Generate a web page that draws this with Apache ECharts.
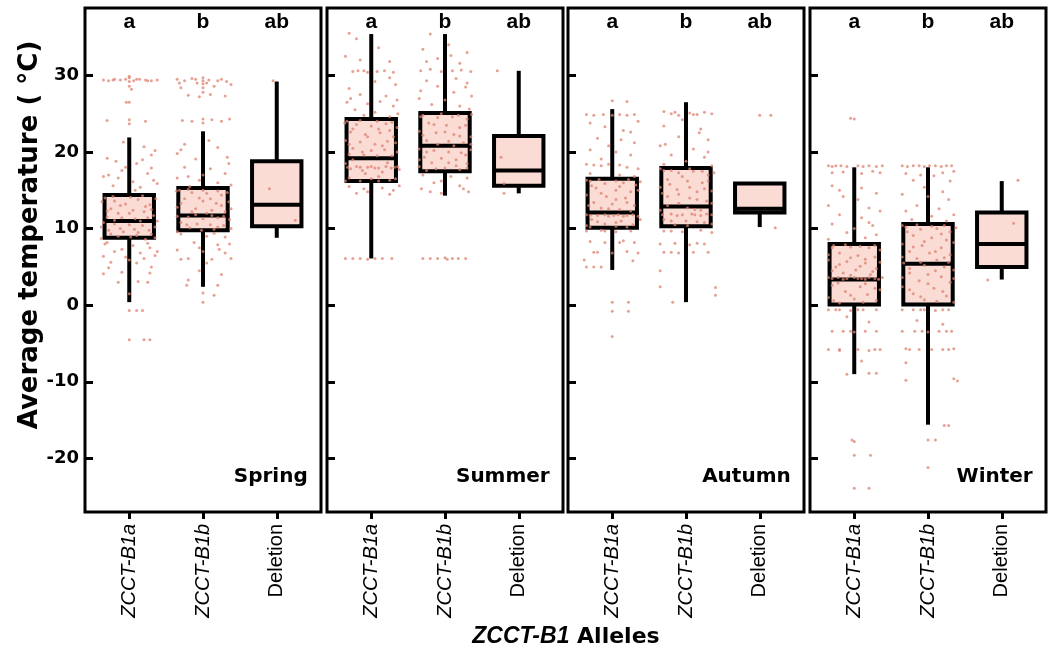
<!DOCTYPE html>
<html>
<head>
<meta charset="utf-8">
<script src="https://cdn.jsdelivr.net/npm/echarts@6/dist/echarts.min.js"></script>
<style>html,body{margin:0;padding:0;background:#fff}#chart{width:1056px;height:653px}</style>
</head>
<body>
<div id="chart"></div>
<script>
var seasons = ['Spring', 'Summer', 'Autumn', 'Winter'];
var alleles = ['ZCCT-B1a', 'ZCCT-B1b', 'Deletion'];
var letters = ['a', 'b', 'ab'];
var yTicks = [-20, -10, 0, 10, 20, 30];

// box stats per allele: [min, Q1, median, Q3, max]
var springBox = [[0.4, 8.8, 11.0, 14.4, 21.9], [2.4, 9.8, 11.7, 15.3, 22.7], [8.8, 10.3, 13.1, 18.8, 29.2]];
var summerBox = [[6.1, 16.2, 19.2, 24.3, 35.4], [14.3, 17.5, 20.8, 25.1, 35.4], [14.6, 15.6, 17.6, 22.1, 30.6]];
var autumnBox = [[4.6, 10.1, 12.1, 16.5, 25.6], [0.4, 10.3, 12.9, 17.9, 26.5], [10.2, 12.1, 12.6, 15.9, 15.9]];
var winterBox = [[-9.0, 0.1, 3.35, 8.0, 18.0], [-15.6, 0.1, 5.4, 10.6, 18.0], [3.35, 5.0, 8.0, 12.1, 16.2]];

// observations: [jitter offset, temperature]
var springB1a = [[-0.35,29.4],[-0.28,29.3],[-0.2,29.5],[-0.12,29.4],[-0.05,29.5],[0,29.7],[0,29.2],[0,28.6],[0,29.9],[0.06,29.3],[0.14,29.5],[0.22,29.4],[0.3,29.3],[0.38,29.4],[0,26.5],[-0.04,26.5],[-0.3,24.1],[0,24.2],[0,23.7],[0.22,24.0],
  [-0.3,19.2],[-0.18,18.8],[0.1,18.5],[0.3,19.6],[0.2,20.7],[0.35,20.2],[-0.1,17.6],[0.25,17.2],[-0.35,16.8],[0.05,16.1],[-0.22,15.6],[0.15,15.4],[0.38,15.9],[-0.08,21.3],[0.3,17.9],
  [-0.33,14.0],[-0.2,13.6],[-0.05,13.2],[0.12,13.8],[0.28,13.1],[-0.25,12.6],[0.05,12.4],[0.2,12.2],[-0.15,12.0],[0.33,11.7],[-0.3,11.5],[-0.1,11.4],[0.08,11.3],[0.25,11.4],[-0.35,10.8],[-0.2,10.6],[0,10.5],[0.18,10.4],[0.35,10.2],[-0.28,9.8],[-0.08,9.6],[0.12,9.5],[0.3,9.3],[-0.15,9.0],[0.1,9.1],[-0.38,8.7],[0.22,8.6],
  [-0.3,8.2],[0.05,7.8],[0.28,7.5],[-0.2,7.0],[0.15,6.8],[-0.35,6.4],[-0.05,6.3],[0.2,6.1],[0.35,6.5],[-0.25,5.6],[0.1,5.5],[-0.1,4.3],[0.28,4.2],[-0.35,4.1],[0.12,3.1],[-0.15,3.0],[0.25,3.0],[0,1.5],
  [0,-0.7],[0.1,-0.7],[0.18,-0.7],[0,-4.5],[0.2,-4.5],[0.28,-4.5],
  [-0.37,13.5],[-0.22,14.2],[0.02,14.1],[0.18,14.3],[0.36,13.9],[-0.12,13.0],[0.22,12.9],[-0.3,12.3],[0,12.0],[0.3,12.5],[-0.2,11.1],[0.15,11.0],[0.38,11.0],[-0.38,10.2],[-0.12,10.0],[0.07,9.9],[0.27,9.8],[-0.25,9.3],[0.02,8.9],[0.35,8.8],[-0.05,18.0],[0.18,19.0],[-0.28,17.0],[0.33,16.3],[-0.15,16.6],[0.08,15.0],[-0.33,8.0],[0.25,8.1],[-0.1,7.3],[0.38,7.0],[0,5.9],[-0.28,4.9],[0.3,5.0],[-0.22,29.4],[0.1,29.5],[0.25,29.3],[0.03,28.2]];
var springB1b = [[-0.35,29.5],[-0.25,29.3],[-0.15,29.6],[-0.08,29.0],[0,29.7],[0,29.3],[0,28.9],[0,28.4],[0,27.8],[0.08,29.4],[0.15,28.6],[0.25,29.5],[0.32,29.2],[-0.3,28.4],[0.38,28.8],[0.1,27.5],[-0.2,27.4],[0.3,27.3],[-0.05,27.2],
  [-0.28,24.1],[-0.15,24.0],[0,24.3],[0,23.8],[0.12,24.2],[0.25,24.0],[0.36,24.3],
  [-0.3,20.3],[0.2,20.6],[-0.1,19.1],[0.33,19.3],[-0.25,18.0],[0.1,17.8],[0.3,17.2],[-0.35,16.6],[-0.05,16.3],[0.2,16.0],[0.38,15.7],[-0.18,15.5],
  [-0.32,15.0],[-0.15,14.7],[0.05,14.6],[0.25,14.4],[-0.25,13.9],[0,13.6],[0.18,13.3],[0.35,13.5],[-0.35,12.8],[-0.1,12.6],[0.12,12.4],[0.3,12.2],[-0.2,11.5],[0,11.3],[0.2,11.4],[0.36,11.2],[-0.3,10.8],[-0.08,10.6],[0.1,10.5],[0.28,10.4],[-0.18,10.1],[0.15,9.9],
  [-0.3,9.3],[0.05,9.0],[0.3,8.9],[-0.12,8.2],[0.2,7.9],[-0.35,7.2],[0,7.0],[0.3,6.8],[-0.2,6.1],[0.12,6.0],[0.38,6.1],[-0.05,4.5],[0.25,4.0],[-0.2,3.3],[0.2,2.6],[-0.22,2.6],
  [0,1.6],[0.15,1.3],[0,0.4],
  [-0.36,14.9],[-0.2,15.1],[0,15.0],[0.2,14.9],[0.33,14.7],[-0.05,14.0],[0.1,13.9],[-0.3,13.3],[0.25,13.0],[-0.15,12.2],[0.05,12.0],[0.38,12.6],[-0.35,11.6],[-0.1,11.8],[0.12,11.7],[0.28,11.6],[-0.22,10.5],[0.2,10.2],[0.38,10.0],[-0.02,9.8],[-0.25,21.0],[0.08,21.5],[-0.35,19.8],[0.35,18.5],[0,17.0],[-0.2,16.8],[-0.35,9.6],[0.15,9.4],[0.36,8.0],[-0.05,7.5],[0.22,7.3],[-0.3,6.0],[0.05,5.5],[-0.1,29.5],[0.05,29.0],[0.2,29.3],[-0.32,29.0]];
var springDel = [[-0.05,29.3],[-0.1,15.2],[0.25,11.1]];

var summerB1a = [[-0.3,35.5],[-0.2,34.8],[0.1,33.6],[-0.35,32.5],[0.25,31.8],[-0.1,30.6],[-0.25,30.5],[-0.18,30.6],[-0.05,30.4],[0.08,30.5],[0.18,30.6],[0.3,30.4],[0.05,29.2],[-0.3,28.3],[0.33,28.8],[-0.15,27.5],[0.2,27.3],[-0.33,26.5],[-0.05,26.3],[0.12,26.6],[0.3,26.0],[-0.22,25.5],[0.05,25.2],[0.36,25.0],[-0.1,24.8],[0.25,24.6],
  [-0.33,24.0],[-0.2,23.6],[0,23.4],[0.2,23.7],[0.35,23.2],[-0.28,22.6],[-0.08,22.3],[0.12,22.5],[0.3,22.0],[-0.35,21.5],[-0.15,21.3],[0.05,21.0],[0.22,21.4],[-0.25,20.5],[0,20.2],[0.18,20.3],[0.35,20.0],[-0.3,19.7],[-0.1,19.6],[0.28,19.5],[-0.35,18.5],[-0.2,18.1],[-0.05,18.0],[0.1,17.9],[0.2,18.1],[0.32,18.0],[-0.28,17.8],[-0.12,17.6],[0.15,17.4],[0.38,17.7],[-0.3,16.6],[0,16.5],[0.25,16.3],[-0.15,16.2],[0.1,16.2],
  [-0.3,15.5],[-0.1,15.2],[0.15,15.3],[0.3,15.0],[-0.2,14.6],[0.25,14.5],
  [-0.35,6.1],[-0.25,6.1],[-0.15,6.1],[-0.05,6.0],[0.05,6.1],[0.15,6.1],[0.28,6.1],
  [-0.36,23.8],[-0.15,24.1],[0.08,24.0],[0.28,23.9],[-0.25,23.0],[0.1,23.0],[-0.05,22.0],[0.25,22.8],[-0.3,21.0],[0.15,20.8],[0.33,21.2],[-0.12,20.0],[0.08,19.5],[-0.25,19.0],[0.22,18.6],[-0.32,18.0],[-0.15,18.0],[0,18.1],[0.05,17.9],[0.27,17.9],[0.36,18.1],[-0.08,17.2],[0.1,16.8],[-0.35,16.2],[0.33,16.5],[-0.28,27.0],[0.25,29.7],[-0.15,32.0],[0.35,26.8],[-0.05,14.8],[0.38,15.6]];
var summerB1b = [[-0.2,35.4],[0.05,34.0],[-0.3,33.4],[0.3,33.0],[-0.1,32.2],[0.2,31.6],[-0.33,30.6],[-0.2,30.8],[-0.05,30.5],[0.1,30.6],[0.22,30.7],[0.35,30.5],[-0.25,29.3],[0.15,29.6],[-0.1,28.6],[0.28,28.5],[0.36,27.3],[-0.35,27.0],[0,26.8],[-0.18,26.2],[0.2,26.0],[0.33,25.6],
  [-0.3,24.8],[-0.1,24.5],[0.1,24.6],[0.3,24.3],[-0.22,23.8],[0.02,23.5],[0.2,23.2],[-0.35,22.7],[-0.12,22.5],[0.12,22.3],[0.35,22.0],[-0.25,21.5],[0.05,21.4],[0.25,21.2],[-0.35,20.4],[-0.15,20.2],[0.05,20.0],[0.22,19.9],[0.35,20.3],[-0.28,19.3],[-0.05,19.2],[0.15,19.0],[-0.18,18.6],[0.3,18.5],[-0.35,18.1],[0,17.9],[0.2,17.7],
  [-0.3,17.0],[0.08,16.8],[0.3,16.6],[-0.15,16.0],[0.2,15.6],[-0.32,15.2],[0.32,14.8],[-0.05,14.6],
  [-0.3,6.1],[-0.2,6.1],[-0.1,6.1],[0,6.2],[0.03,6.0],[0.1,6.1],[0.18,6.1],[0.28,6.1],
  [-0.33,24.6],[-0.05,25.0],[0.18,24.8],[0.36,24.9],[-0.15,23.6],[0.28,23.5],[-0.3,22.2],[0,22.6],[0.2,22.1],[-0.1,21.0],[0.12,20.8],[0.35,21.0],[-0.25,20.0],[0.28,19.6],[-0.35,19.0],[0.05,18.6],[0.3,17.9],[-0.12,17.8],[-0.25,17.6],[0.15,18.2],[-0.25,31.8],[0.08,32.6],[0.3,29.0],[-0.33,28.0],[0.12,27.8],[-0.05,16.2],[0.25,15.2],[-0.2,14.8]];
var summerDel = [[-0.29,30.6],[-0.24,19.3],[-0.2,15.9],[-0.2,14.6]];

var autumnB1a = [[0,26.7],[0.2,26.6],[-0.35,24.9],[-0.25,24.8],[-0.12,24.9],[0,24.8],[0.1,24.9],[0.2,24.8],[0.3,24.9],[-0.1,23.3],[0.25,22.6],[-0.2,21.8],[0.12,21.6],[0.3,21.2],[-0.3,20.3],[0.05,20.0],[0.25,19.6],[-0.15,19.1],[-0.35,18.4],[-0.25,18.3],[-0.15,18.2],[-0.05,18.4],[0.1,18.3],[0.2,18.0],[0.35,17.8],[-0.3,17.2],[0.1,17.0],[0.3,16.8],
  [-0.3,16.2],[-0.1,15.9],[0.15,16.0],[0.32,15.7],[-0.22,15.3],[0.05,15.0],[0.25,14.8],[-0.35,14.4],[-0.08,14.2],[0.18,14.0],[-0.25,13.4],[0,13.2],[0.3,13.0],[-0.15,12.7],[0.1,12.5],[-0.35,11.8],[-0.2,11.7],[-0.05,11.6],[0.08,11.8],[0.2,11.7],[0.35,11.6],[-0.28,11.2],[0.12,11.0],[-0.1,10.6],[0.28,10.5],[-0.3,10.2],[0.05,10.3],
  [-0.35,9.7],[-0.15,9.8],[0.05,9.6],[0.25,9.7],[-0.3,8.3],[-0.1,8.2],[0.15,8.4],[0.3,8.2],[-0.25,6.9],[0,6.8],[0.2,7.0],[0.35,6.8],[-0.38,5.9],[-0.35,5.0],[-0.25,5.0],[-0.15,5.0],
  [0,0.4],[0.22,0.4],[0,-0.8],[0.22,-0.8],[0,-4.1],
  [-0.35,16.3],[-0.18,16.4],[0.05,16.2],[0.22,16.4],[0.38,16.1],[-0.28,15.6],[0.1,15.5],[0.35,15.0],[-0.15,14.6],[0.05,13.8],[-0.32,13.0],[0.2,13.4],[-0.05,12.6],[0.25,12.3],[-0.3,11.7],[-0.1,11.8],[0.02,11.7],[0.15,11.6],[0.28,11.8],[0.38,11.2],[-0.2,10.9],[0.05,10.8],[-0.35,10.4],[0.2,10.2],[-0.05,20.8],[0.15,22.8],[-0.3,23.8],[0.35,24.0],[-0.1,9.7],[0.1,8.2],[-0.2,6.9],[0.28,5.8]];
var autumnB1b = [[-0.3,25.3],[-0.2,25.0],[-0.1,24.8],[0.05,25.1],[0.15,24.9],[0.25,25.2],[0.35,25.0],[-0.05,24.2],[-0.3,23.4],[0.2,23.0],[-0.1,22.0],[0.3,21.6],[-0.35,20.8],[0.1,20.4],[-0.2,19.6],[0.25,19.3],[0,18.8],[-0.3,18.4],[0.35,18.2],
  [-0.3,17.6],[-0.1,17.3],[0.1,17.5],[0.3,17.0],[-0.25,16.4],[0.02,16.2],[0.22,16.0],[-0.35,15.4],[-0.12,15.1],[0.15,14.8],[0.35,14.9],[-0.25,14.2],[0.05,14.0],[0.28,13.6],[-0.1,13.3],[-0.35,12.4],[0.12,12.5],[-0.2,11.9],[-0.05,11.8],[0.08,11.9],[0.2,11.7],[0.35,11.8],[-0.3,11.2],[0,11.0],[0.25,10.8],[-0.15,10.5],
  [-0.3,9.7],[-0.05,9.6],[0.2,9.8],[0.35,9.5],[-0.35,8.0],[-0.15,8.1],[0.05,7.9],[0.25,8.0],[-0.3,6.9],[-0.1,6.8],[0.1,6.9],[0.3,6.9],[-0.35,4.5],[-0.35,2.4],[0.4,2.3],[0.4,1.3],[-0.18,0.4],
  [-0.35,17.8],[-0.2,17.6],[0.05,17.8],[0.22,17.5],[0.38,17.3],[-0.05,16.8],[0.3,16.2],[-0.22,15.8],[0.05,15.4],[0.25,15.2],[-0.32,14.6],[-0.1,14.5],[0.15,13.8],[0.35,13.3],[-0.25,13.0],[0.02,12.7],[0.2,12.4],[-0.32,11.8],[-0.12,11.7],[0.12,11.8],[0.28,11.9],[-0.2,11.0],[0.15,10.9],[0.35,10.6],[0.02,10.4],[-0.15,25.2],[0.1,24.9],[-0.28,21.0],[0.18,22.5],[0.3,20.0],[-0.2,9.7],[0.15,8.1],[-0.2,6.9]];
var autumnDel = [[0,24.8],[0.15,24.8],[0.21,10.1]];

var winterB1a = [[0,24.3],[-0.05,24.4],
  [-0.35,18.2],[-0.25,18.2],[-0.1,18.1],[0.05,18.2],[0.2,18.2],[0.3,18.1],[-0.3,17.3],[-0.15,17.4],[0.1,17.2],[0.25,17.5],[0.35,17.3],
  [-0.3,15.6],[0.1,15.3],[0.3,14.6],[-0.15,14.2],[0.05,13.8],[-0.35,13.0],[0.2,12.7],[0.35,12.3],[-0.2,11.8],[0.1,11.4],[-0.3,10.6],[0.25,10.4],[0,10.0],[-0.1,9.5],[0.3,9.2],[-0.35,8.6],[0.15,8.8],
  [-0.28,7.8],[-0.05,7.6],[0.2,7.5],[0.35,7.2],[-0.2,6.8],[0.05,6.5],[0.28,6.3],[-0.35,5.9],[-0.1,5.7],[0.15,5.5],[-0.25,5.0],[0.3,4.8],[0.02,4.6],[-0.15,4.2],[0.22,4.0],[-0.35,3.6],[-0.22,3.6],[-0.1,3.5],[0,3.6],[0.1,3.5],[0.2,3.6],[0.33,3.4],[-0.3,2.6],[0.08,2.4],[0.28,2.2],[-0.12,1.8],[0.18,1.4],[-0.35,1.0],[0,0.8],[0.3,0.6],[-0.2,0.3],
  [-0.35,-0.6],[-0.2,-0.6],[-0.05,-0.7],[0.12,-0.6],[0.3,-0.6],[-0.1,-1.5],[0.2,-2.2],[-0.3,-3.4],[-0.15,-3.4],[0,-3.5],[0.15,-3.4],[0.3,-3.4],[-0.35,-5.8],[-0.2,-5.9],[0.05,-5.8],[0.2,-5.9],[0.35,-5.8],[0.1,-7.3],[-0.1,-9.0],[0.2,-8.9],[0.3,-8.9],
  [-0.03,-17.6],[0,-17.8],[0,-19.6],[0.22,-19.6],[0,-23.9],[0.2,-23.9],
  [-0.3,7.5],[-0.12,7.9],[0.08,7.7],[0.28,7.8],[-0.35,6.6],[-0.05,6.2],[0.15,6.0],[0.35,5.6],[-0.2,5.3],[0.08,5.1],[-0.3,4.5],[0.25,4.4],[-0.05,3.9],[-0.3,3.5],[-0.15,3.4],[0.05,3.5],[0.15,3.4],[0.28,3.5],[0.38,3.6],[-0.22,2.9],[0.15,2.8],[0.35,2.0],[-0.05,1.3],[-0.28,0.6],[0.12,0.4],[-0.3,18.1],[-0.18,18.2],[0.12,18.1],[0.38,18.2],[-0.2,15.0],[0.2,10.8],[-0.25,-0.6],[0.05,-0.6],[-0.2,-5.8],[0.28,-5.8],[-0.05,-3.4]];
var winterB1b = [[-0.35,18.2],[-0.2,18.2],[-0.05,18.1],[0.1,18.2],[0.25,18.2],[-0.3,17.2],[-0.1,17.0],[0.08,16.9],[0.2,17.3],[0.35,17.5],[-0.2,16.3],[0.3,16.2],
  [-0.35,14.5],[0,14.2],[0.28,13.8],[-0.15,13.0],[0.15,12.6],[-0.3,12.3],[0.35,11.8],[0.05,11.6],[-0.22,11.2],[0.25,11.0],
  [-0.3,10.2],[-0.1,9.9],[0.12,10.0],[0.3,9.6],[-0.2,9.1],[0.05,8.8],[0.25,8.5],[-0.35,8.0],[-0.08,7.8],[0.18,7.5],[-0.25,7.0],[0.02,6.8],[0.3,6.6],[-0.15,6.1],[0.12,5.9],[-0.33,5.5],[-0.05,5.2],[0.22,5.0],[0.35,4.6],[-0.25,4.2],[0,4.0],[0.18,3.7],[-0.12,3.2],[0.3,3.0],[-0.35,2.4],[0.08,2.2],[-0.2,1.5],[0.25,1.2],[-0.05,0.7],[0.35,0.4],
  [-0.35,-0.6],[-0.2,-0.6],[-0.05,-0.6],[0.1,-0.7],[0.28,-0.6],[-0.15,-2.0],[0.2,-2.5],[-0.35,-3.4],[-0.18,-3.4],[0,-3.5],[0.15,-3.4],[0.32,-3.4],[-0.3,-5.7],[-0.12,-5.8],[0.05,-5.8],[0.2,-5.8],[0.35,-5.7],[-0.3,-7.5],[0.35,-9.6],[-0.3,-9.8],[0.4,-9.9],
  [0.22,-15.7],[0.28,-15.7],[0,-17.6],[0.1,-17.6],[0,-21.2],
  [-0.35,10.4],[-0.15,10.5],[0.05,10.3],[0.22,10.4],[0.38,10.1],[-0.28,9.6],[0.18,9.3],[-0.05,8.3],[0.35,8.2],[-0.2,7.6],[0.1,7.0],[-0.35,6.3],[0.22,6.2],[-0.1,5.6],[0.28,5.6],[-0.25,4.8],[0.1,4.5],[-0.35,3.6],[0.35,3.5],[0,2.8],[-0.25,2.0],[0.2,1.8],[-0.1,1.1],[0.12,0.5],[-0.28,18.1],[-0.12,18.2],[0.02,18.2],[0.18,18.1],[0.32,18.2],[-0.05,15.4],[0.2,14.8],[-0.1,-0.6],[0.2,-0.6],[-0.25,-5.8],[0.28,-5.8],[-0.08,-3.4],[0.25,-3.4]];
var winterDel = [[0.22,16.3],[0.16,10.7],[-0.19,3.3]];

var boxes = [springBox, summerBox, autumnBox, winterBox];
var points = [
  [springB1a, springB1b, springDel],
  [summerB1a, summerB1b, summerDel],
  [autumnB1a, autumnB1b, autumnDel],
  [winterB1a, winterB1b, winterDel]
];

var gridLeft = [85, 327, 568, 810];
var blackFont = 'DejaVu Sans';

function renderBox(params, api) {
  var x = api.value(0);
  var lo = api.coord([x, api.value(1)]);
  var q1 = api.coord([x, api.value(2)]);
  var med = api.coord([x, api.value(3)]);
  var q3 = api.coord([x, api.value(4)]);
  var hi = api.coord([x, api.value(5)]);
  var half = api.size([1, 0])[0] * 0.335;
  var lw = 4;
  return {
    type: 'group',
    children: [
      { type: 'line', shape: { x1: lo[0], y1: lo[1], x2: q1[0], y2: q1[1] }, style: { stroke: '#000', lineWidth: lw } },
      { type: 'line', shape: { x1: q3[0], y1: q3[1], x2: hi[0], y2: hi[1] }, style: { stroke: '#000', lineWidth: lw } },
      { type: 'rect', shape: { x: q3[0] - half, y: q3[1], width: half * 2, height: q1[1] - q3[1] }, style: { fill: '#fadcd5', stroke: '#000', lineWidth: lw } },
      { type: 'line', shape: { x1: med[0] - half, y1: med[1], x2: med[0] + half, y2: med[1] }, style: { stroke: '#000', lineWidth: lw } }
    ]
  };
}

var grids = [], xAxes = [], yAxes = [], series = [];

seasons.forEach(function (season, i) {
  grids.push({
    left: gridLeft[i], top: 8, width: 236, height: 504,
    show: true, borderColor: '#000', borderWidth: 3, backgroundColor: 'transparent'
  });
  xAxes.push({
    gridIndex: i, type: 'value', min: 0.4, max: 3.6,
    splitLine: { show: false },
    axisLine: { show: false, onZero: false },
    axisTick: { show: true, customValues: [1, 2, 3], length: 7, lineStyle: { color: '#000', width: 3 } },
    axisLabel: {
      customValues: [1, 2, 3], rotate: 90, margin: 12,
      formatter: function (v) {
        var name = alleles[Math.round(v) - 1];
        return name === 'Deletion' ? '{n|' + name + '}' : '{i|' + name + '}';
      },
      rich: {
        i: { fontFamily: 'Liberation Sans', fontStyle: 'italic', fontSize: 20, color: '#000' },
        n: { fontFamily: 'Liberation Sans', fontSize: 20, color: '#000' }
      }
    }
  });
  yAxes.push({
    gridIndex: i, type: 'value', min: -27, max: 38.8,
    splitLine: { show: false },
    axisLine: { show: false, onZero: false },
    axisTick: { show: true, inside: true, length: 8, customValues: yTicks, lineStyle: { color: '#000', width: 3 } },
    axisLabel: {
      show: i === 0, customValues: yTicks, margin: 6,
      fontFamily: blackFont, fontWeight: 'bold', fontSize: 18, color: '#000'
    }
  });

  series.push({
    type: 'custom', xAxisIndex: i, yAxisIndex: i, z: 2,
    renderItem: renderBox,
    encode: { x: 0, y: [1, 2, 3, 4, 5] },
    data: boxes[i].map(function (b, k) { return [k + 1].concat(b); })
  });

  var pts = [];
  points[i].forEach(function (group, k) {
    group.forEach(function (p) { pts.push([k + 1 + p[0], p[1]]); });
  });
  series.push({
    type: 'scatter', xAxisIndex: i, yAxisIndex: i, z: 3,
    symbol: 'circle', symbolSize: 3,
    itemStyle: { color: '#de8270', opacity: 0.75 },
    data: pts
  });

  series.push({
    type: 'scatter', xAxisIndex: i, yAxisIndex: i, z: 4,
    symbolSize: 0, silent: true,
    itemStyle: { opacity: 1 },
    label: {
      show: true, position: 'inside',
      formatter: function (p) { return letters[p.dataIndex]; },
      fontFamily: 'Liberation Sans', fontWeight: 'bold', fontSize: 21, color: '#000'
    },
    data: [[1, 37.0], [2, 37.0], [3, 37.0]]
  });

  series.push({
    type: 'scatter', xAxisIndex: i, yAxisIndex: i, z: 4,
    symbolSize: 0, silent: true,
    itemStyle: { opacity: 1 },
    label: {
      show: true, position: 'inside', align: 'right', verticalAlign: 'middle',
      formatter: season,
      fontFamily: blackFont, fontWeight: 'bold', fontSize: 20, color: '#000'
    },
    data: [[3.42, -22.4]]
  });
});

var chart = echarts.init(document.getElementById('chart'), null, { renderer: 'canvas' });
chart.setOption({
  animation: false,
  backgroundColor: '#fff',
  grid: grids,
  xAxis: xAxes,
  yAxis: yAxes,
  series: series,
  graphic: [{
    type: 'text', x: 30, y: 235, rotation: Math.PI / 2,
    style: {
      text: 'Average temperature ( °C)', align: 'center', verticalAlign: 'middle',
      fontFamily: blackFont, fontWeight: 'bold', fontSize: 26, fill: '#000'
    }
  }, {
    type: 'text', x: 566, y: 637,
    style: {
      text: '{i|ZCCT-B1}{n| Alleles}', align: 'center', verticalAlign: 'middle',
      rich: {
        i: { fontFamily: 'Liberation Sans', fontStyle: 'italic', fontWeight: 'bold', fontSize: 23, fill: '#000' },
        n: { fontFamily: blackFont, fontWeight: 'bold', fontSize: 22, fill: '#000' }
      }
    }
  }]
});
</script>
</body>
</html>
